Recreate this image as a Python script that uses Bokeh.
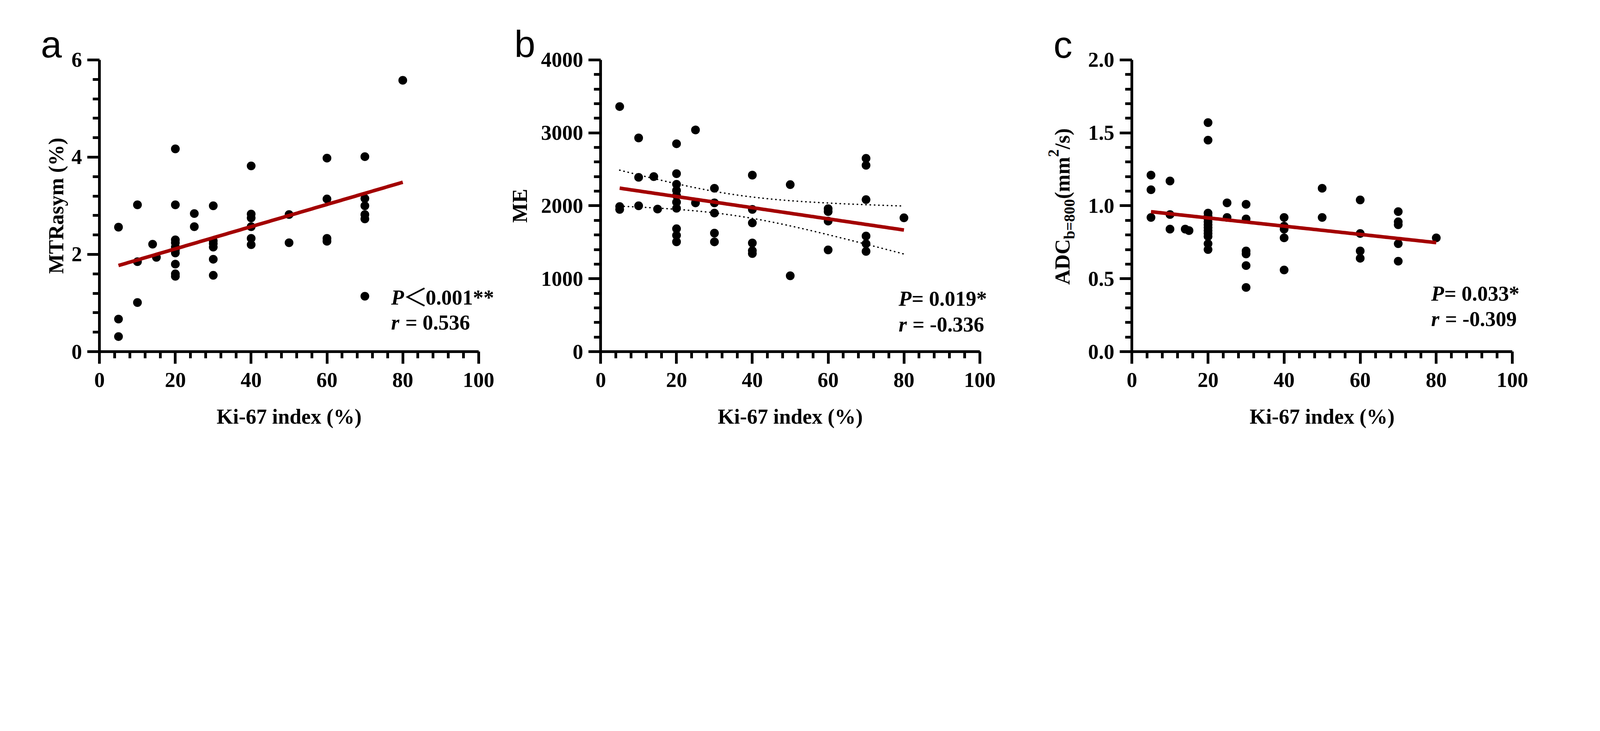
import numpy as np
from bokeh.plotting import figure
from bokeh.layouts import row
from bokeh.models import Range1d, SingleIntervalTicker, PrintfTickFormatter, Label
from bokeh.embed import file_html
from bokeh.resources import INLINE

# ---------------- data ----------------
# Panel a: MTRasym (%) vs Ki-67 index (%)
ki67_a = [5, 5, 5, 10, 10, 10, 14, 15,
          20, 20, 20, 20, 20, 20, 20, 20, 20, 20,
          25, 25, 30, 30, 30, 30, 30, 30,
          40, 40, 40, 40, 40, 40, 50, 50,
          60, 60, 60, 60, 70, 70, 70, 70, 70, 70, 80]
mtr_a = [2.56, 0.67, 0.31, 3.02, 1.85, 1.01, 2.21, 1.94,
         4.17, 3.02, 2.30, 2.24, 2.15, 2.09, 2.03, 1.80, 1.60, 1.55,
         2.84, 2.57, 3.00, 2.28, 2.22, 2.15, 1.90, 1.57,
         3.82, 2.83, 2.75, 2.57, 2.33, 2.20, 2.82, 2.24,
         3.98, 3.14, 2.33, 2.27, 4.01, 3.15, 3.00, 2.82, 2.73, 1.14, 5.58]

# Panel b: ME vs Ki-67 index (%)
ki67_b = [5, 5, 5, 10, 10, 10, 14, 15,
          20, 20, 20, 20, 20, 20, 20, 20, 20, 20,
          25, 25, 30, 30, 30, 30, 30,
          40, 40, 40, 40, 40, 40, 50, 50,
          60, 60, 60, 60, 70, 70, 70, 70, 70, 70, 80]
me_b = [3360, 1990, 1950, 2930, 2390, 2000, 2400, 1955,
        2850, 2440, 2295, 2210, 2140, 2050, 1966, 1685, 1595, 1506,
        3040, 2040, 2240, 2040, 1900, 1625, 1505,
        2420, 1950, 1765, 1490, 1385, 1345, 2290, 1040,
        1960, 1920, 1790, 1395, 2650, 2555, 2085, 1585, 1480, 1375, 1835]

# Panel c: ADC b=800 vs Ki-67 index (%)
ki67_c = [5, 5, 5, 10, 10, 10, 14, 15,
          20, 20, 20, 20, 20, 20, 20, 20, 20, 20, 20, 20, 20,
          25, 25, 30, 30, 30, 30, 30, 30,
          40, 40, 40, 40, 40, 50, 50,
          60, 60, 60, 60, 70, 70, 70, 70, 70, 80]
adc_c = [1.21, 1.11, 0.92, 1.17, 0.94, 0.84, 0.84, 0.83,
         1.57, 1.45, 0.95, 0.93, 0.91, 0.89, 0.87, 0.85, 0.83, 0.81, 0.79, 0.74, 0.70,
         1.02, 0.92, 1.01, 0.91, 0.69, 0.67, 0.59, 0.44,
         0.92, 0.86, 0.84, 0.78, 0.56, 1.12, 0.92,
         1.04, 0.81, 0.69, 0.64, 0.96, 0.89, 0.87, 0.74, 0.62, 0.78]

x_label = "Ki-67 index (%)"
y_label_a = "MTRasym (%)"
y_label_b = "ME"
y_label_c = ["ADC", "b=800", "(mm", "2", "/s)"]
T_CRIT = 2.018  # t(0.975, n-2) for the 95% confidence band

# ---------------- geometry (designed in screenshot px, converted to CSS px) ----------------
K = 5855 / 4096.0


def c(v):
    return v / K


SERIF = "Liberation Serif"
SANS = "Liberation Sans"
CJK = "Noto Sans CJK SC"
MID = {SERIF: 0.3375, SANS: 0.3465, CJK: 0.38}  # baseline -> middle shift (em)
RED = "#A30000"
FS = f"{c(77):.1f}px"
H = 1290
TOP_CSS = 8
Y0, YTOP = 1298.0, 230.0

panels = {
    "a": dict(L=8, W=1287, X0=375.0, X100=1762.0, ymax=6.0),
    "b": dict(L=1295, W=1329, X0=2209.0, X100=3596.0, ymax=4000.0),
    "c": dict(L=2624, W=1464, X0=4153.0, X100=5545.0, ymax=2.0),
}


def dx(pm, img_x):
    return (img_x - pm["X0"]) / (pm["X100"] - pm["X0"]) * 100.0


def dy(pm, img_y):
    return (Y0 - img_y) / (Y0 - YTOP) * pm["ymax"]


def make_fig(pm, yint, fmt=None):
    xr = Range1d(dx(pm, pm["L"] * K), dx(pm, (pm["L"] + pm["W"]) * K))
    yr = Range1d(dy(pm, (TOP_CSS + H) * K), dy(pm, TOP_CSS * K))
    p = figure(width=pm["W"], height=H, x_range=xr, y_range=yr,
               output_backend="svg", toolbar_location=None, min_border=0)
    p.outline_line_color = None
    p.xgrid.visible = False
    p.ygrid.visible = False
    p.xaxis.fixed_location = 0
    p.yaxis.fixed_location = 0
    p.xaxis.bounds = (0, 100)
    p.yaxis.bounds = (0, pm["ymax"])
    p.xaxis.ticker = SingleIntervalTicker(interval=20, num_minor_ticks=5)
    p.yaxis.ticker = SingleIntervalTicker(interval=yint, num_minor_ticks=5)
    if fmt:
        p.yaxis.formatter = PrintfTickFormatter(format=fmt)
    for ax in (p.xaxis, p.yaxis):
        ax.axis_line_width = c(10)
        ax.major_tick_line_width = c(10)
        ax.minor_tick_line_width = c(10)
        ax.major_tick_in = 0
        ax.minor_tick_in = 0
        ax.major_tick_out = round(c(44))
        ax.minor_tick_out = round(c(24))
        ax.major_label_text_font = SERIF
        ax.major_label_text_font_style = "bold"
        ax.major_label_text_font_size = FS
        ax.major_label_text_color = "black"
        ax.axis_label_text_font = SERIF
        ax.axis_label_text_font_style = "bold"
        ax.axis_label_text_font_size = FS
        ax.axis_label_text_color = "black"
    p.xaxis.major_label_standoff = round(c(33))
    p.yaxis.major_label_standoff = round(c(20))
    p.xaxis.axis_label = x_label
    p.xaxis.axis_label_standoff = round(c(61))
    return p


def add_fit(p, xs, ys, band=False):
    x = np.asarray(xs, float)
    y = np.asarray(ys, float)
    b, a = np.polyfit(x, y, 1)
    xx = np.linspace(x.min(), x.max(), 120)
    yy = a + b * xx
    if band:
        n = len(x)
        s = np.sqrt(np.sum((y - (a + b * x)) ** 2) / (n - 2))
        sxx = np.sum((x - x.mean()) ** 2)
        se = s * np.sqrt(1.0 / n + (xx - x.mean()) ** 2 / sxx)
        for sign in (1, -1):
            p.line(xx, yy + sign * T_CRIT * se, line_color="black", line_width=c(5),
                   line_dash="1 10", line_cap="round")
    p.scatter(x, y, size=c(32), fill_color="black", line_color="black", line_width=0)
    p.line(xx, yy, line_color=RED, line_width=c(13))


def label(p, pm, img_x, img_base, text, size=77, style="bold", font=SERIF, rotated=False):
    """Place text whose alphabetic baseline is at img_base (screen px of the design)."""
    shift = MID[font] * size
    if rotated:
        x, y, angle = img_x - shift, img_base, np.pi / 2
    else:
        x, y, angle = img_x, img_base - shift, 0.0
    p.add_layout(Label(x=dx(pm, x), y=dy(pm, y), text=text, angle=angle,
                       text_font=font, text_font_style=style,
                       text_font_size=f"{c(size):.1f}px", text_color="black",
                       text_baseline="middle", text_align="left"))


# ---------------- panel a ----------------
pmA = panels["a"]
pa = make_fig(pmA, 2)
pa.yaxis.axis_label = y_label_a
pa.yaxis.axis_label_standoff = round(c(8))
add_fit(pa, ki67_a, mtr_a)
label(pa, pmA, 1442, 1126, "P", style="bold italic")
label(pa, pmA, 1486, 1126, "\uff1c", size=90, style="normal", font=CJK)
label(pa, pmA, 1568, 1126, "0.001**")
label(pa, pmA, 1442, 1218, "r", style="bold italic")
label(pa, pmA, 1494, 1218, "= 0.536")
label(pa, pmA, 160, 221, "a", size=138, style="normal", font=SANS)

# ---------------- panel b ----------------
pmB = panels["b"]
pb = make_fig(pmB, 1000)
pb.yaxis.axis_label = y_label_b
pb.yaxis.axis_label_standoff = round(c(30))
add_fit(pb, ki67_b, me_b, band=True)
label(pb, pmB, 3299, 1130, "P", style="bold italic")
label(pb, pmB, 3347, 1130, "= 0.019*")
label(pb, pmB, 3299, 1224, "r", style="bold italic")
label(pb, pmB, 3350, 1224, "= -0.336")
label(pb, pmB, 1893, 220, "b", size=138, style="normal", font=SANS)

# ---------------- panel c ----------------
pmC = panels["c"]
pc = make_fig(pmC, 0.5, fmt="%.1f")
add_fit(pc, ki67_c, adc_c)
label(pc, pmC, 5248, 1112, "P", style="bold italic")
label(pc, pmC, 5296, 1112, "= 0.033*")
label(pc, pmC, 5248, 1205, "r", style="bold italic")
label(pc, pmC, 5299, 1205, "= -0.309")
label(pc, pmC, 3866, 222, "c", size=138, style="normal", font=SANS)

# composite rotated y label: ADC_{b=800}(mm^2/s)
piece_size = [77, 56, 77, 56, 77]
piece_base = [3925, 3943, 3925, 3885, 3925]
piece_em = [2.166, 2.626, 1.999, 0.5, 1.0]
ypos = 1053.0
for txt, size, base, em in zip(y_label_c, piece_size, piece_base, piece_em):
    label(pc, pmC, base, ypos, txt, size=size, rotated=True)
    ypos -= em * size

layout = row(pa, pb, pc)
open("out.html", "w").write(file_html(layout, INLINE))
